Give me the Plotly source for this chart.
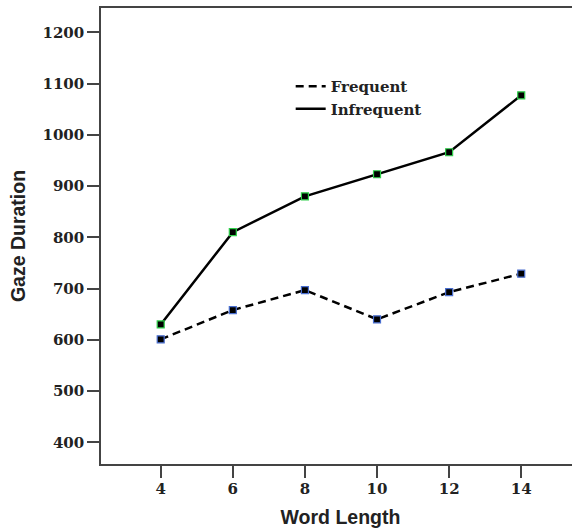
import plotly.graph_objects as go

word_length = [4, 6, 8, 10, 12, 14]
frequent = [601, 658, 697, 640, 693, 729]
infrequent = [630, 810, 880, 923, 966, 1077]
y_ticks = [400, 500, 600, 700, 800, 900, 1000, 1100, 1200]
x_ticks = [4, 6, 8, 10, 12, 14]

serif = dict(family="DejaVu Serif", size=15, color="#222", weight="bold")
sans = dict(family="Liberation Sans", size=19.5, color="#222", weight="bold")

fig = go.Figure()
fig.add_trace(go.Scatter(
    x=word_length, y=frequent, mode="lines+markers", showlegend=False,
    line=dict(color="black", width=2.5, dash="8px,5px"),
    marker=dict(symbol="square", size=7, color="black",
                line=dict(color="#4a6fd0", width=1.2)),
))
fig.add_trace(go.Scatter(
    x=word_length, y=infrequent, mode="lines+markers", showlegend=False,
    line=dict(color="black", width=2.5),
    marker=dict(symbol="square", size=7, color="black",
                line=dict(color="#2fcf4a", width=1.2)),
))
# legend entries (line only)
fig.add_trace(go.Scatter(x=[None], y=[None], mode="lines", name="Frequent",
                         line=dict(color="black", width=2.5, dash="8px,5px")))
fig.add_trace(go.Scatter(x=[None], y=[None], mode="lines", name="Infrequent",
                         line=dict(color="black", width=2.5)))

fig.update_layout(
    width=580, height=532,
    margin=dict(l=101, r=0, t=8, b=68, autoexpand=False),
    paper_bgcolor="white", plot_bgcolor="white",
    showlegend=True,
    legend=dict(x=0.396, y=0.864, xanchor="left", yanchor="top",
                font=serif, bgcolor="rgba(0,0,0,0)", tracegroupgap=0),
    xaxis=dict(
        range=[2.344, 15.63], tickvals=x_ticks, ticktext=[str(v) for v in x_ticks],
        showgrid=False, zeroline=False, showline=True, linecolor="#444",
        linewidth=1.5, mirror=True, ticks="outside", ticklen=12, tickwidth=1.5,
        tickcolor="#444", tickfont=serif, automargin=False, ticklabelstandoff=-2,
        title=dict(text="Word Length", font=sans, standoff=14),
    ),
    yaxis=dict(
        range=[357.7, 1247.4], tickvals=y_ticks, ticktext=[str(v) for v in y_ticks],
        showgrid=False, zeroline=False, showline=True, linecolor="#444",
        linewidth=1.5, mirror=False, ticks="outside", ticklen=12, tickwidth=1.5,
        tickcolor="#444", tickfont=serif, automargin=False,
        title=dict(text="Gaze Duration", font=sans, standoff=12),
    ),
)

fig.write_html(
    "out.html",
    config={"displayModeBar": False},
    post_script=(
        "document.documentElement.style.overflow='hidden';"
        "document.documentElement.style.margin='0';"
        "document.body.style.margin='0';"
        "document.body.style.overflow='hidden';"
    ),
)
